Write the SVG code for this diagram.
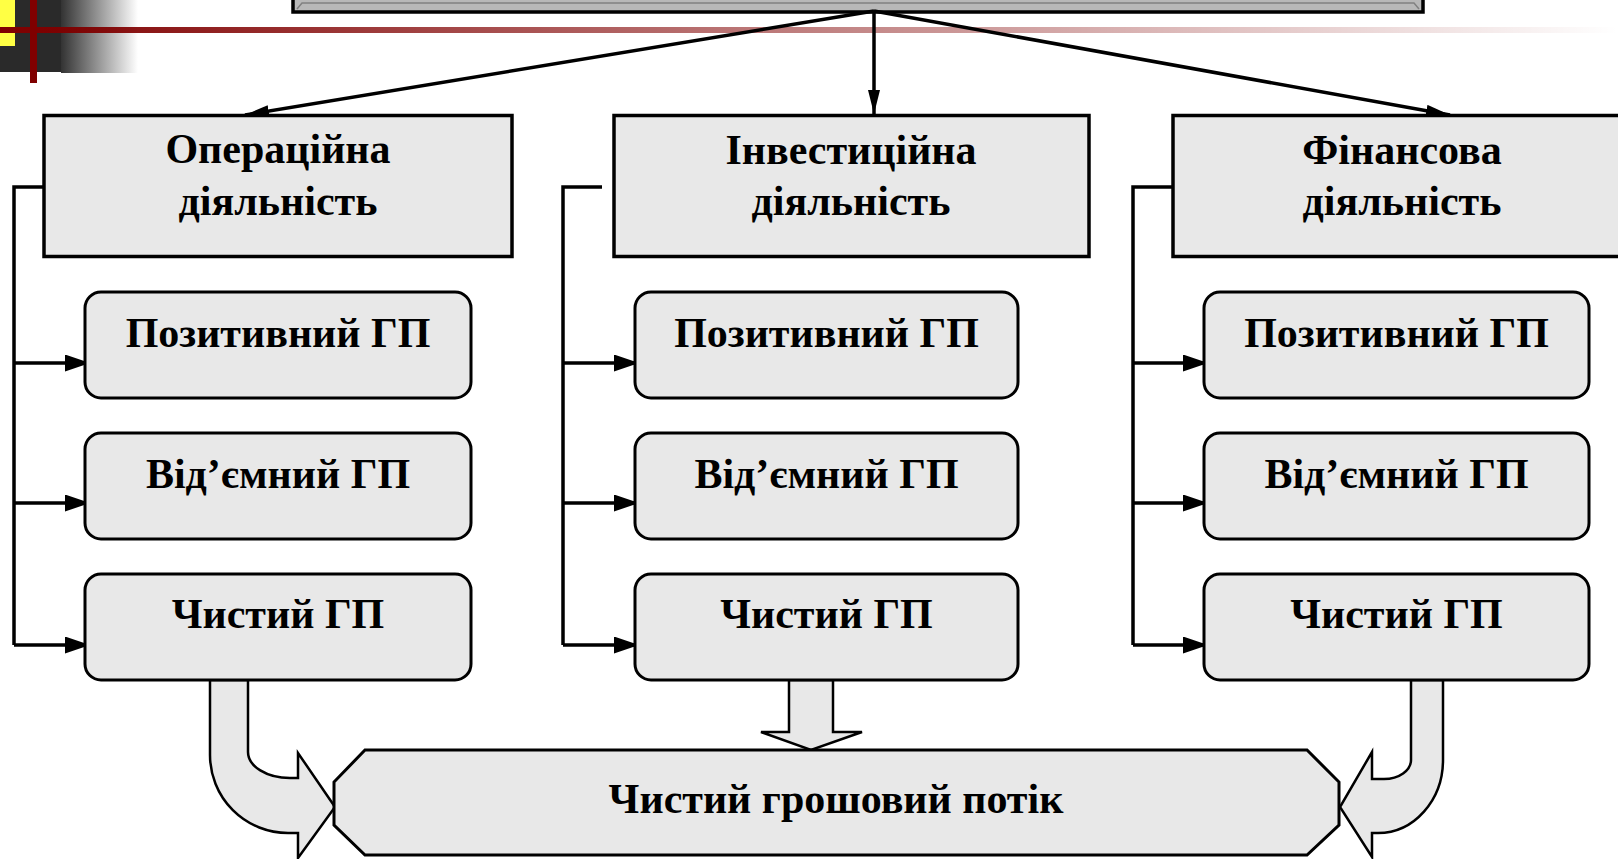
<svg xmlns="http://www.w3.org/2000/svg" width="1618" height="859" viewBox="0 0 1618 859">
<defs>
<linearGradient id="redfade" x1="0" y1="0" x2="1618" y2="0" gradientUnits="userSpaceOnUse">
<stop offset="0" stop-color="#800000" stop-opacity="1"/>
<stop offset="1" stop-color="#800000" stop-opacity="0"/>
</linearGradient>
<linearGradient id="grayfade" x1="61" y1="0" x2="138" y2="0" gradientUnits="userSpaceOnUse">
<stop offset="0" stop-color="#333333"/>
<stop offset="1" stop-color="#ffffff"/>
</linearGradient>
<marker id="ah" markerUnits="userSpaceOnUse" markerWidth="24" markerHeight="12" refX="24" refY="6" orient="auto">
<path d="M0,0 L24,6 L0,12 z" fill="#000"/>
</marker>
<marker id="ah2" markerUnits="userSpaceOnUse" markerWidth="25" markerHeight="17" refX="25" refY="8.5" orient="auto">
<path d="M0,0 L25,8.5 L0,17 z" fill="#000"/>
</marker>
<style>
.box{fill:#e8e8e8;stroke:#000;stroke-width:3.5}
.sub{fill:#e8e8e8;stroke:#000;stroke-width:3}
.t{font-family:"Liberation Serif","Times New Roman",serif;font-weight:bold;font-size:42px;text-anchor:middle;fill:#000}
.ln{stroke:#000;stroke-width:3.5;fill:none}
.blk{fill:#e8e8e8;stroke:#000;stroke-width:2.5;stroke-linejoin:miter}
</style>
</defs>

<g id="decoration">
<rect x="0" y="0" width="61" height="72" fill="#2a2a2a"/>
<rect x="61" y="0" width="77" height="73" fill="url(#grayfade)"/>
<rect x="0" y="0" width="15" height="46" fill="#ffff44"/>
<rect x="0" y="27" width="1618" height="6" fill="url(#redfade)"/>
<rect x="30" y="0" width="7" height="83" fill="#800000"/>
</g>

<g id="top">
<rect x="293" y="-30" width="1130" height="42" fill="#b8b8b8" stroke="#000" stroke-width="3.5"/>
<path d="M297,9 L302,3 H1414 L1419,9" fill="none" stroke="#808080" stroke-width="1.5"/>
</g>

<g id="connectors">
<line class="ln" x1="874" y1="11" x2="245" y2="115" marker-end="url(#ah)"/>
<line class="ln" x1="874" y1="11" x2="874" y2="114" marker-end="url(#ah)"/>
<line class="ln" x1="874" y1="11" x2="1450" y2="115" marker-end="url(#ah)"/>

<path class="ln" d="M52,187 H14 V645"/>
<line class="ln" x1="14" y1="363" x2="90" y2="363" marker-end="url(#ah2)"/>
<line class="ln" x1="14" y1="503" x2="90" y2="503" marker-end="url(#ah2)"/>
<line class="ln" x1="14" y1="645" x2="90" y2="645" marker-end="url(#ah2)"/>

<path class="ln" d="M602,187 H563 V645"/>
<line class="ln" x1="563" y1="363" x2="639" y2="363" marker-end="url(#ah2)"/>
<line class="ln" x1="563" y1="503" x2="639" y2="503" marker-end="url(#ah2)"/>
<line class="ln" x1="563" y1="645" x2="639" y2="645" marker-end="url(#ah2)"/>

<path class="ln" d="M1172,187 H1133 V645"/>
<line class="ln" x1="1133" y1="363" x2="1208" y2="363" marker-end="url(#ah2)"/>
<line class="ln" x1="1133" y1="503" x2="1208" y2="503" marker-end="url(#ah2)"/>
<line class="ln" x1="1133" y1="645" x2="1208" y2="645" marker-end="url(#ah2)"/>

<path class="blk" d="M210,680 V755 A78,78 0 0 0 288,833 H298 V858 L335,807 L298,753 V778 H290 A42,26 0 0 1 248,752 V680 Z"/>
<path class="blk" d="M789,680 H833 V732 H862 L811,750 L761,732 H789 Z"/>
<path class="blk" d="M1443,680 V760 A65,73 0 0 1 1378,833 H1372 V857 L1340,807 L1372,752 V779 H1384 A27,19 0 0 0 1411,760 V680 Z"/>
</g>

<g id="operating">
<rect class="box" x="44" y="115.5" width="468" height="141"/>
<text class="t" x="278" y="163">Операційна</text>
<text class="t" x="278" y="215">діяльність</text>
</g>
<g id="investing">
<rect class="box" x="614" y="115.5" width="475" height="141"/>
<text class="t" x="851" y="164">Інвестиційна</text>
<text class="t" x="851" y="215">діяльність</text>
</g>
<g id="financing">
<rect class="box" x="1173" y="115.5" width="460" height="141"/>
<text class="t" x="1402" y="164">Фінансова</text>
<text class="t" x="1402" y="215">діяльність</text>
</g>

<g id="op-pos"><rect class="sub" x="85" y="292" width="386" height="106" rx="16"/><text class="t" x="278" y="347">Позитивний ГП</text></g>
<g id="op-neg"><rect class="sub" x="85" y="433" width="386" height="106" rx="16"/><text class="t" x="278" y="488">Від’ємний ГП</text></g>
<g id="op-net"><rect class="sub" x="85" y="574" width="386" height="106" rx="16"/><text class="t" x="278" y="628">Чистий ГП</text></g>

<g id="inv-pos"><rect class="sub" x="635" y="292" width="383" height="106" rx="16"/><text class="t" x="826.5" y="347">Позитивний ГП</text></g>
<g id="inv-neg"><rect class="sub" x="635" y="433" width="383" height="106" rx="16"/><text class="t" x="826.5" y="488">Від’ємний ГП</text></g>
<g id="inv-net"><rect class="sub" x="635" y="574" width="383" height="106" rx="16"/><text class="t" x="826.5" y="628">Чистий ГП</text></g>

<g id="fin-pos"><rect class="sub" x="1204" y="292" width="385" height="106" rx="16"/><text class="t" x="1396.5" y="347">Позитивний ГП</text></g>
<g id="fin-neg"><rect class="sub" x="1204" y="433" width="385" height="106" rx="16"/><text class="t" x="1396.5" y="488">Від’ємний ГП</text></g>
<g id="fin-net"><rect class="sub" x="1204" y="574" width="385" height="106" rx="16"/><text class="t" x="1396.5" y="628">Чистий ГП</text></g>

<g id="net-cash-flow">
<polygon class="sub" points="365,750 1307,750 1339,782 1339,825 1307,855 365,855 334,825 334,782"/>
<text class="t" x="836" y="813">Чистий грошовий потік</text>
</g>
</svg>
